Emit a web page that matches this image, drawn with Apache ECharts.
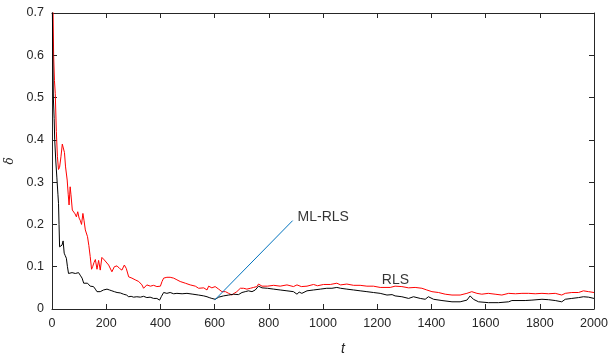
<!DOCTYPE html>
<html>
<head>
<meta charset="utf-8">
<script src="https://cdn.jsdelivr.net/npm/echarts@6/dist/echarts.min.js"></script>
<style>
  html, body {margin: 0; padding: 0; background: #fff;}
  #chart {width: 610px; height: 356px;}
</style>
</head>
<body>
<div id="chart"></div>
<script>
// RLS (red)
const tRls = [0, 3, 6, 9, 12, 16, 20, 24, 28, 33, 38, 42, 46, 50, 56, 60, 63, 67, 70, 75,
  80, 85, 90, 95, 100, 104, 109, 114, 118, 123, 131, 136, 141, 146, 150, 155, 160, 166, 172, 178,
  184, 193, 200, 209, 215, 221, 230, 240, 249, 258, 267, 274, 283, 295, 307, 320, 332, 338, 350, 363,
  375, 387, 400, 406, 412, 424, 436, 449, 461, 473, 492, 510, 529, 541, 547, 560, 572, 578, 590, 602,
  615, 627, 640, 652, 664, 672, 682, 695, 707, 719, 732, 744, 756, 762, 775, 795, 818, 842, 867, 891,
  904, 920, 941, 965, 980, 1002, 1027, 1051, 1065, 1088, 1113, 1137, 1162, 1186, 1211, 1248, 1266, 1291, 1316, 1340,
  1365, 1383, 1402, 1426, 1451, 1476, 1506, 1531, 1549, 1568, 1586, 1610, 1635, 1660, 1685, 1710, 1734, 1759, 1783, 1808,
  1832, 1857, 1881, 1894, 1918, 1943, 1961, 1980, 2000];
const rls = [1.0, 0.75, 0.6, 0.54, 0.51, 0.42, 0.36, 0.33, 0.335, 0.36, 0.39, 0.39, 0.37, 0.336, 0.305, 0.27, 0.246, 0.289, 0.27, 0.234,
  0.23, 0.225, 0.218, 0.23, 0.215, 0.21, 0.2, 0.226, 0.21, 0.187, 0.171, 0.15, 0.124, 0.094, 0.1, 0.11, 0.117, 0.094, 0.115, 0.092,
  0.122, 0.116, 0.12, 0.104, 0.1, 0.088, 0.1, 0.102, 0.096, 0.092, 0.104, 0.096, 0.076, 0.073, 0.069, 0.065, 0.057, 0.049, 0.057, 0.054,
  0.056, 0.053, 0.054, 0.065, 0.073, 0.075, 0.075, 0.073, 0.069, 0.065, 0.061, 0.057, 0.054, 0.049, 0.047, 0.05, 0.045, 0.054, 0.05, 0.053,
  0.047, 0.041, 0.041, 0.037, 0.033, 0.037, 0.041, 0.049, 0.049, 0.047, 0.049, 0.051, 0.053, 0.059, 0.054, 0.054, 0.056, 0.054, 0.057, 0.053,
  0.057, 0.053, 0.054, 0.058, 0.055, 0.058, 0.058, 0.061, 0.057, 0.059, 0.056, 0.056, 0.054, 0.054, 0.051, 0.051, 0.054, 0.053, 0.05, 0.051,
  0.049, 0.045, 0.041, 0.039, 0.035, 0.033, 0.033, 0.037, 0.041, 0.037, 0.035, 0.037, 0.035, 0.033, 0.037, 0.036, 0.037, 0.037, 0.036, 0.037,
  0.036, 0.037, 0.033, 0.037, 0.039, 0.039, 0.043, 0.041, 0.039];

// ML-RLS (black)
const tMl = [0, 3, 5, 8, 10, 14, 18, 22, 24, 26, 28, 33, 37, 41, 45, 49, 53, 57, 61, 67,
  74, 80, 86, 92, 98, 104, 111, 117, 124, 131, 136, 141, 147, 153, 160, 166, 172, 178, 184, 190,
  203, 212, 221, 230, 240, 252, 264, 275, 283, 292, 301, 313, 326, 338, 350, 362, 375, 387, 397, 404,
  412, 424, 436, 449, 461, 480, 498, 520, 541, 547, 560, 572, 580, 590, 602, 615, 633, 652, 670, 688,
  701, 713, 725, 738, 750, 762, 775, 795, 818, 842, 867, 891, 904, 912, 922, 941, 965, 990, 1014, 1033,
  1051, 1065, 1088, 1113, 1137, 1162, 1186, 1211, 1236, 1255, 1266, 1291, 1316, 1334, 1359, 1377, 1389, 1408, 1439, 1476,
  1506, 1531, 1543, 1555, 1574, 1611, 1648, 1685, 1697, 1746, 1771, 1808, 1832, 1857, 1881, 1894, 1918, 1943, 1961, 1980, 2000];
const mlRls = [0.8, 0.6, 0.5, 0.45, 0.4, 0.35, 0.31, 0.27, 0.25, 0.2, 0.147, 0.15, 0.151, 0.161, 0.132, 0.126, 0.12, 0.1, 0.084, 0.085,
  0.086, 0.083, 0.084, 0.087, 0.086, 0.08, 0.073, 0.061, 0.063, 0.061, 0.057, 0.054, 0.055, 0.053, 0.047, 0.041, 0.04, 0.041, 0.044, 0.045,
  0.047, 0.045, 0.043, 0.041, 0.039, 0.038, 0.035, 0.033, 0.029, 0.03, 0.028, 0.029, 0.028, 0.03, 0.027, 0.028, 0.025, 0.025, 0.021, 0.03,
  0.039, 0.037, 0.039, 0.036, 0.037, 0.036, 0.037, 0.035, 0.033, 0.033, 0.031, 0.029, 0.027, 0.025, 0.023, 0.028, 0.031, 0.033, 0.035, 0.034,
  0.039, 0.041, 0.043, 0.041, 0.045, 0.054, 0.05, 0.049, 0.047, 0.045, 0.043, 0.041, 0.035, 0.04, 0.037, 0.043, 0.045, 0.047, 0.049, 0.049,
  0.051, 0.049, 0.047, 0.045, 0.043, 0.041, 0.039, 0.037, 0.033, 0.034, 0.031, 0.029, 0.025, 0.029, 0.025, 0.023, 0.029, 0.023, 0.02, 0.017,
  0.017, 0.021, 0.031, 0.023, 0.017, 0.015, 0.015, 0.017, 0.02, 0.02, 0.021, 0.023, 0.022, 0.02, 0.017, 0.023, 0.025, 0.027, 0.029, 0.028, 0.025];

// annotation arrow (ML-RLS) and text labels
const arrowT = [600, 888];
const arrowV = [0.021, 0.209];
const labelText = ['ML-RLS', 'RLS'];
const labelT = [906, 1217];
const labelV = [0.218, 0.069];

// axis ranges
const xMin = 0, xMax = 2000, xStep = 200;
const yMin = 0, yMax = 0.7, yStep = 0.1;

const pairs = (xs, ys) => xs.map((x, i) => [x, ys[i]]);

const axisColor = '#262626';
const font = 'Liberation Sans, Arial, sans-serif';

// box axes (top / right): same scale, no labels
const boxAxis = {
  axisLine: {show: true, onZero: false, lineStyle: {color: axisColor, width: 1}},
  axisTick: {show: true, inside: true, length: 5, lineStyle: {color: axisColor, width: 1}},
  axisLabel: {show: false},
  splitLine: {show: false}
};

const chart = echarts.init(document.getElementById('chart'));
chart.setOption({
  animation: false,
  grid: {left: 52, right: 16, top: 13, bottom: 47, outerBoundsMode: 'none'},
  xAxis: [{
    type: 'value', min: xMin, max: xMax, interval: xStep,
    name: 't', nameLocation: 'middle', nameGap: 33,
    nameTextStyle: {fontFamily: font, fontSize: 14, fontStyle: 'italic', color: axisColor, padding: [0, 0, 0, 40]},
    axisLine: {show: true, onZero: false, lineStyle: {color: axisColor, width: 1}},
    axisTick: {show: true, inside: true, length: 5, lineStyle: {color: axisColor}},
    axisLabel: {margin: 8, fontFamily: font, fontSize: 12.5, color: axisColor, formatter: v => String(v)},
    splitLine: {show: false}
  }, Object.assign({type: 'value', min: xMin, max: xMax, interval: xStep, position: 'top'}, boxAxis)],
  yAxis: [{
    type: 'value', min: yMin, max: yMax, interval: yStep,
    name: 'δ', nameLocation: 'middle', nameGap: 34, nameRotate: 90,
    nameTextStyle: {fontFamily: 'DejaVu Serif, serif', fontSize: 12, fontStyle: 'italic', color: axisColor},
    axisLine: {show: true, onZero: false, lineStyle: {color: axisColor, width: 1}},
    axisTick: {show: true, inside: true, length: 5, lineStyle: {color: axisColor}},
    axisLabel: {margin: 8, fontFamily: font, fontSize: 12.5, color: axisColor},
    splitLine: {show: false}
  }, Object.assign({type: 'value', min: yMin, max: yMax, interval: yStep, position: 'right'}, boxAxis)],
  series: [{
    name: 'RLS', type: 'line', data: pairs(tRls, rls),
    showSymbol: false, symbol: 'none',
    lineStyle: {color: '#ff0000', width: 1}
  }, {
    name: 'ML-RLS', type: 'line', data: pairs(tMl, mlRls),
    showSymbol: false, symbol: 'none',
    lineStyle: {color: '#000000', width: 1}
  }, {
    name: 'arrow', type: 'line', data: pairs(arrowT, arrowV),
    xAxisIndex: 1, yAxisIndex: 1,
    showSymbol: false, symbol: 'none',
    lineStyle: {color: '#0072bd', width: 1}
  }, {
    name: 'labels', type: 'scatter', symbolSize: 0,
    xAxisIndex: 1, yAxisIndex: 1,
    data: labelT.map((t, i) => ({value: [t, labelV[i]], name: labelText[i]})),
    label: {
      show: true, position: 'right', distance: 0,
      formatter: p => p.name,
      fontFamily: font, fontSize: 14, color: '#000'
    }
  }]
});
</script>
</body>
</html>
